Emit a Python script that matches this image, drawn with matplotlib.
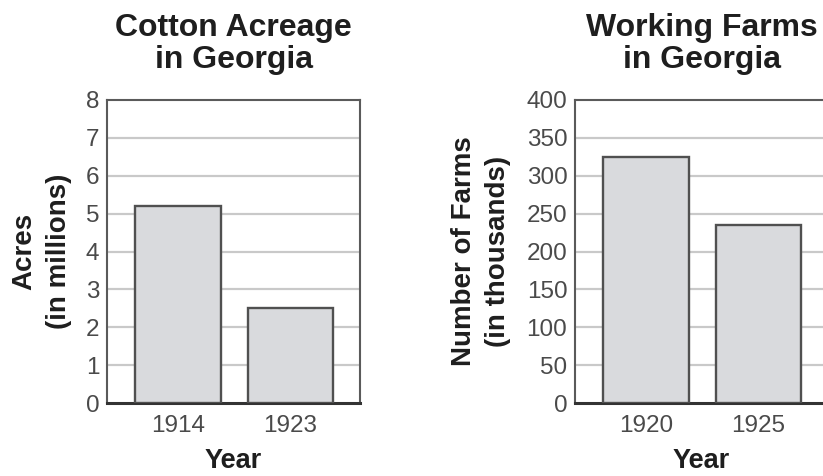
import matplotlib
matplotlib.use("Agg")
import matplotlib.pyplot as plt

# ----- data -----
cotton_years = ["1914", "1923"]
cotton_acres = [5.2, 2.5]          # millions of acres
cotton_ticks = list(range(0, 9))

farm_years = ["1920", "1925"]
farm_counts = [325, 235]           # thousands of farms
farm_ticks = list(range(0, 401, 50))

plt.rcParams.update({"font.family": ["Liberation Sans", "DejaVu Sans"]})

W, H = 823, 476
fig = plt.figure(figsize=(W / 100, H / 100), dpi=100)

BAR = "#d9dadd"
EDGE = "#505050"
GRID = "#c9c9c9"
TICK = "#4a4a4a"
TEXT = "#1e1e1e"


def panel(rect, cats, vals, ticks, title, ylabel, ylabel_x):
    ax = fig.add_axes(rect)
    x = range(len(cats))
    ax.bar(x, vals, width=0.76, color=BAR, edgecolor=EDGE, linewidth=1.7, zorder=3)
    ax.set_xlim(-0.63, 1.62)
    ax.set_ylim(ticks[0], ticks[-1])
    ax.set_yticks(ticks)
    ax.set_xticks(list(x))
    ax.set_xticklabels(cats)
    ax.tick_params(length=0, labelsize=17.5, labelcolor=TICK)
    ax.tick_params(axis="y", pad=5.5)
    ax.tick_params(axis="x", pad=8.5)
    for t in ticks[1:-1]:
        ax.axhline(t, color=GRID, lw=1.6, zorder=1)
    for s in ["top", "right", "left"]:
        ax.spines[s].set_color("#5a5a5a")
        ax.spines[s].set_linewidth(1.5)
    ax.spines["bottom"].set_color("#333333")
    ax.spines["bottom"].set_linewidth(2.2)

    # centre of the axes in figure coords
    cx = rect[0] + rect[2] / 2
    fig.text(cx, 1 - 44 / H, title, ha="center", va="center",
             fontsize=23, fontweight="bold", color=TEXT, linespacing=1.12)
    fig.text(cx, 1 - 468 / H, "Year", ha="center", va="baseline",
             fontsize=19.5, fontweight="bold", color=TEXT)
    fig.text(ylabel_x, rect[1] + rect[3] / 2, ylabel, ha="center", va="center",
             rotation=90, fontsize=20, fontweight="bold", color=TEXT,
             linespacing=1.4)
    return ax


ax_bottom = (H - 403) / H
ax_height = 303 / H
ax_width = 253 / W

panel([107 / W, ax_bottom, ax_width, ax_height], cotton_years, cotton_acres,
      cotton_ticks, "Cotton Acreage\nin Georgia", "Acres\n(in millions)", 41.5 / W)
panel([575 / W, ax_bottom, ax_width, ax_height], farm_years, farm_counts,
      farm_ticks, "Working Farms\nin Georgia", "Number of Farms\n(in thousands)", 481 / W)

fig.savefig("out.png", dpi=100)
